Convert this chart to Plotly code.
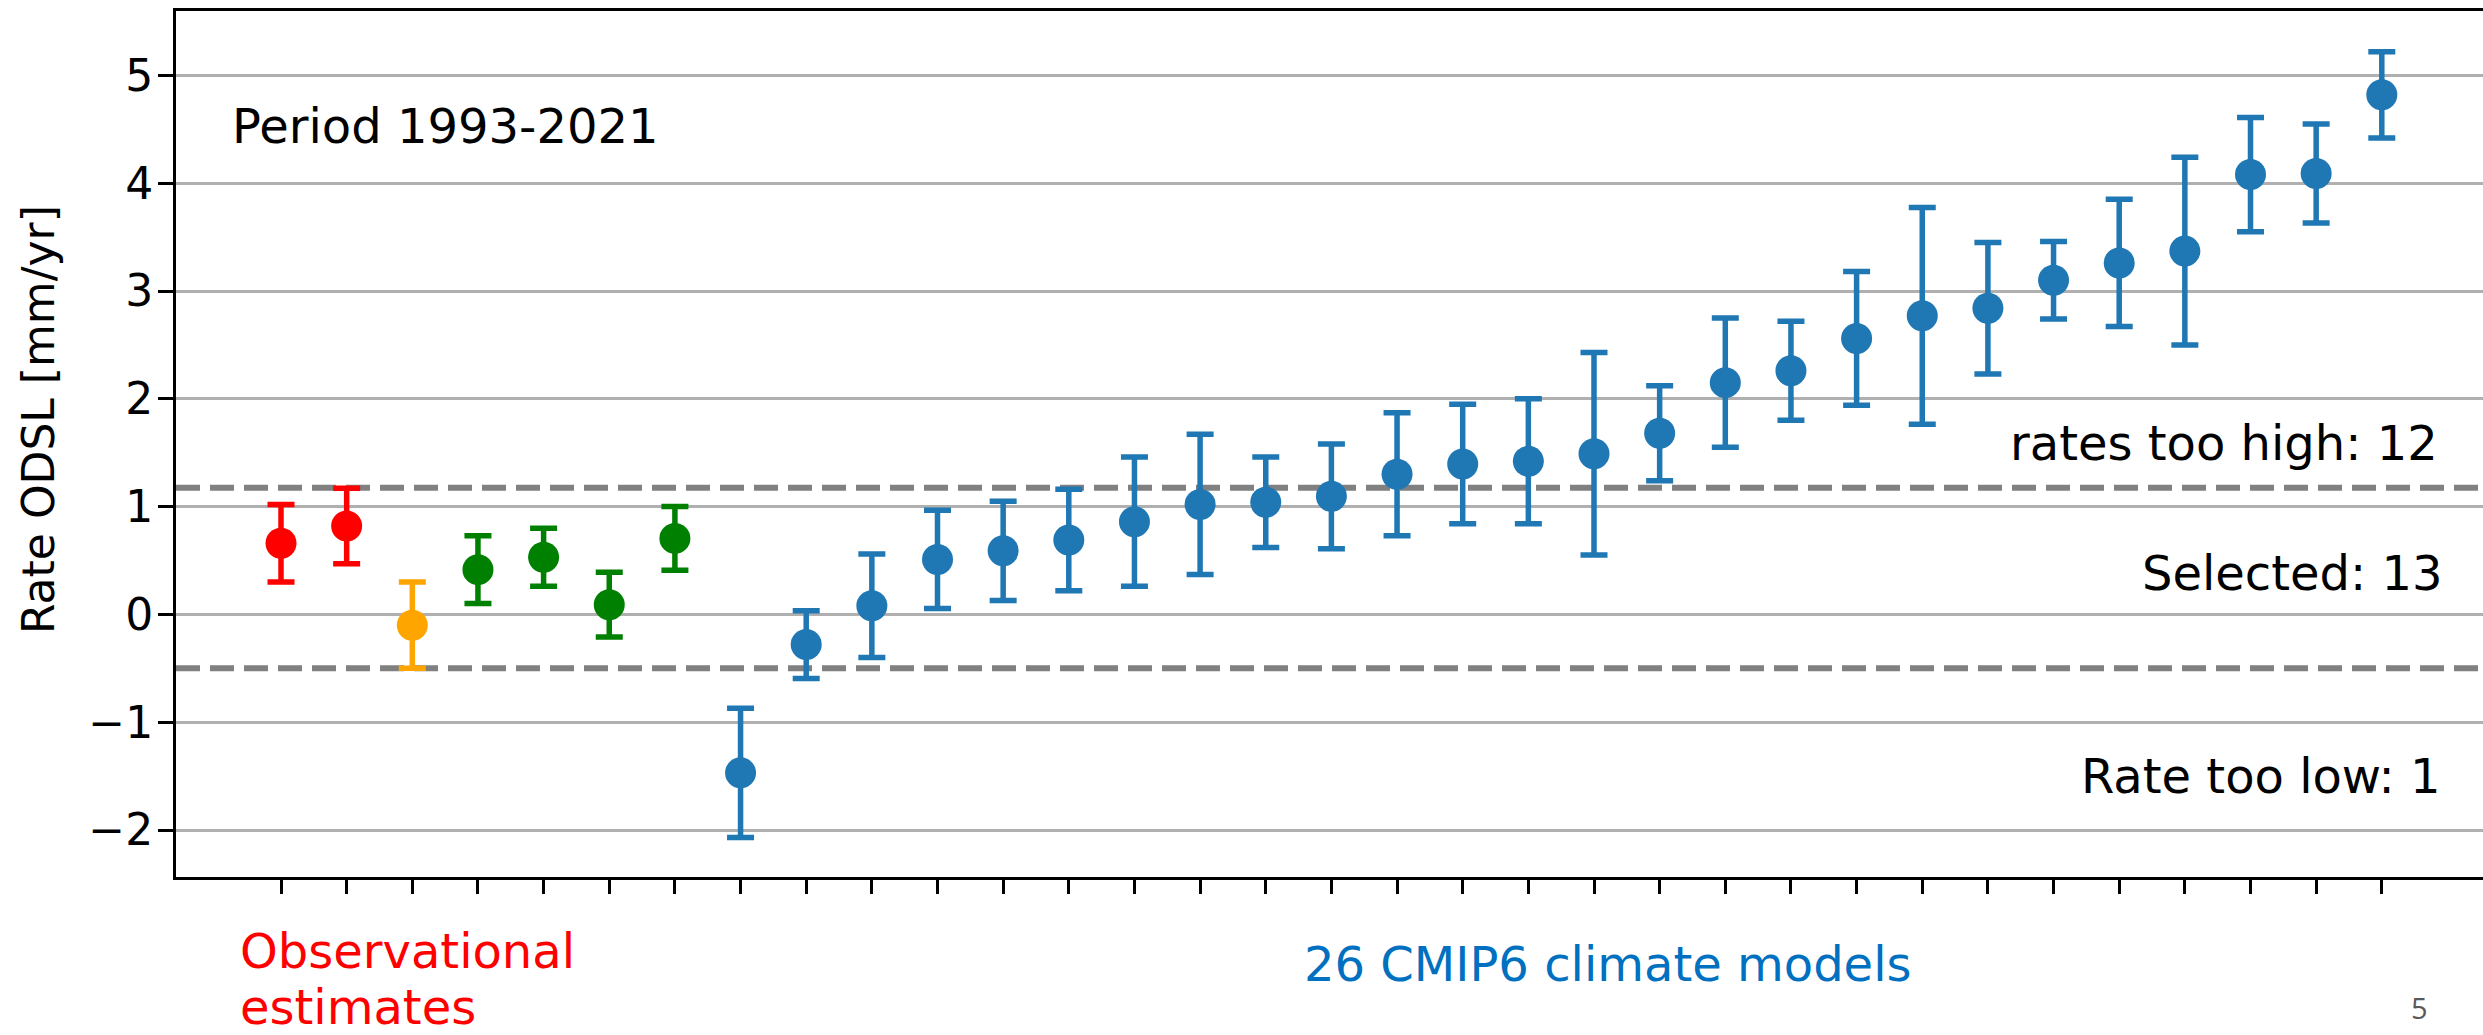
import plotly.graph_objects as go

# ---------------- data ----------------
obs_red_values = [0.66, 0.82]
obs_red_errors = [0.36, 0.35]
obs_orange_values = [-0.10]
obs_orange_errors = [0.40]
obs_green_values = [0.415, 0.53, 0.09, 0.705]
obs_green_errors = [0.315, 0.27, 0.30, 0.295]

model_values = [-1.47, -0.28, 0.08, 0.51, 0.59, 0.69, 0.86, 1.02, 1.04, 1.095,
                1.30, 1.395, 1.42, 1.49, 1.68, 2.15, 2.26, 2.56, 2.77, 2.84,
                3.10, 3.26, 3.37, 4.08, 4.09, 4.82]
model_errors = [0.60, 0.315, 0.48, 0.455, 0.46, 0.47, 0.60, 0.65, 0.42, 0.485,
                0.57, 0.555, 0.58, 0.94, 0.44, 0.60, 0.46, 0.62, 1.005, 0.61,
                0.36, 0.59, 0.87, 0.53, 0.46, 0.40]

thresholds = [1.175, -0.5]
y_ticks = [-2, -1, 0, 1, 2, 3, 4, 5]

texts_period = "Period 1993-2021"
text_high = "rates too high: 12"
text_sel = "Selected: 13"
text_low = "Rate too low: 1"
text_obs = ["Observational", "estimates"]
text_models = "26 CMIP6 climate models"
page_number = "5"
y_title = "Rate ODSL [mm/yr]"

# ---------------- layout constants ----------------
W, H = 2483, 1035
L, R, T, B = 176, 2483, 11, 877
FONT = "DejaVu Sans"

groups = [
    (obs_red_values, obs_red_errors, "#ff0000"),
    (obs_orange_values, obs_orange_errors, "#ffa500"),
    (obs_green_values, obs_green_errors, "#008000"),
    (model_values, model_errors, "#1f77b4"),
]

fig = go.Figure()
start = 0
for vals, errs, col in groups:
    xs = list(range(start, start + len(vals)))
    start += len(vals)
    fig.add_trace(go.Scatter(
        x=xs, y=vals, mode="markers",
        marker=dict(size=31, color=col, line=dict(width=0)),
        error_y=dict(type="data", array=errs, visible=True, color=col,
                     thickness=5.5, width=13.5),
        showlegend=False, hoverinfo="skip",
    ))
n_total = start

for t in thresholds:
    fig.add_shape(type="line", xref="paper", x0=0, x1=1, yref="y", y0=t, y1=t,
                  line=dict(color="#808080", width=6, dash="24px,10px"),
                  layer="between")

def px_x(p):
    return (p - L) / (R - L)

def px_y(p):
    return (B - p) / (B - T)

def ann(text, x, y, size, color="black", xanchor="center", angle=0, font=FONT):
    fig.add_annotation(text=text, x=px_x(x), y=px_y(y), xref="paper", yref="paper",
                       xanchor=xanchor, yanchor="middle", showarrow=False,
                       textangle=angle,
                       font=dict(family=font, size=size, color=color))

ann(texts_period, 230, 126, 48, xanchor="left")
ann(text_high, 2440, 443, 48, xanchor="right")
ann(text_sel, 2445, 573, 48, xanchor="right")
ann(text_low, 2442, 776, 48, xanchor="right")
ann(text_obs[0], 238, 951, 48, color="#ff0000", xanchor="left")
ann(text_obs[1], 238, 1007, 48, color="#ff0000", xanchor="left")
ann(text_models, 1607, 964, 48, color="#0070c0")
ann(page_number, 2419, 1007, 29, color="#595959", font="Open Sans")
ann(y_title, 39, 420, 44, angle=-90)

# x range: point 0 at pixel 281, spacing 65.65 px
sp = 65.65
x0 = (L - 281) / sp
x1 = (R - 281) / sp
y0v = 614.4
upp = 107.8
ytop = (y0v - T) / upp
ybot = -(B - y0v) / upp

fig.update_layout(
    width=W, height=H,
    margin=dict(l=L, r=W - R, t=T, b=H - B, pad=0),
    paper_bgcolor="white", plot_bgcolor="white",
    font=dict(family=FONT, color="black"),
    xaxis=dict(range=[x0, x1], tickmode="array", tickvals=list(range(n_total)),
               showticklabels=False, ticks="outside", ticklen=14, tickwidth=3,
               tickcolor="black", showgrid=False, zeroline=False,
               showline=True, linecolor="black", linewidth=3, mirror=True),
    yaxis=dict(range=[ybot, ytop], tickmode="array", tickvals=y_ticks,
               ticktext=[("\u2212" + str(-v)) if v < 0 else str(v) for v in y_ticks],
               ticks="outside", ticklen=15, tickwidth=3, tickcolor="black",
               tickfont=dict(family=FONT, size=44, color="black"),
               ticklabelstandoff=-4,
               showgrid=True, gridcolor="#b0b0b0", gridwidth=2.5,
               zeroline=False, showline=True, linecolor="black", linewidth=3,
               mirror=False),
)

fig.write_html(
    "out.html",
    config=dict(displayModeBar=False),
    post_script="document.body.style.margin='0';document.body.style.overflow='hidden';"
                "document.documentElement.style.overflow='hidden';",
)
